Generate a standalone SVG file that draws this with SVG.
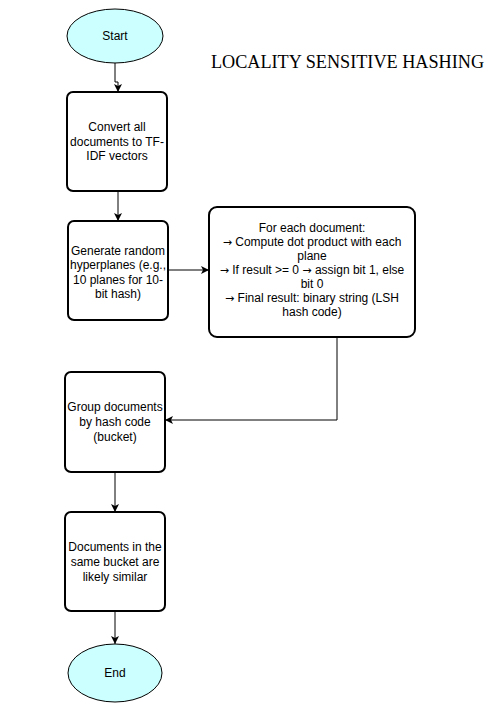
<svg xmlns="http://www.w3.org/2000/svg" width="498" height="723" viewBox="0 0 498 723">
<style>
.box{fill:#fff;stroke:#000;stroke-width:2}
.term{fill:#ccffff;stroke:#000;stroke-width:1}
.t{font-family:"Liberation Sans",Arial,sans-serif;font-size:12px;fill:#000;text-anchor:middle}
.a{font-family:"DejaVu Sans",sans-serif;font-size:11px}
.title{font-family:"Liberation Serif","Times New Roman",serif;font-size:18.2px;fill:#000;text-anchor:middle}
.c{fill:none;stroke:#000;stroke-width:1}
</style>
<defs>
<marker id="arr" markerUnits="userSpaceOnUse" markerWidth="10" markerHeight="10" refX="8" refY="4" orient="auto">
<path d="M0,0 L8,4 L0,8 L2,4 z" fill="#000"/>
</marker>
</defs>
<rect width="498" height="723" fill="#fff"/>
<text class="title" x="347.5" y="68">LOCALITY SENSITIVE HASHING</text>
<g id="connectors">
<path class="c" d="M115,63 L115,82 L118,82 L118,92" marker-end="url(#arr)"/>
<path class="c" d="M118,191 L118,221" marker-end="url(#arr)"/>
<path class="c" d="M168,270 L209,270" marker-end="url(#arr)"/>
<path class="c" d="M337,337 L337,420 L165,420" marker-end="url(#arr)"/>
<path class="c" d="M115,472 L115,512" marker-end="url(#arr)"/>
<path class="c" d="M115,611 L115,644" marker-end="url(#arr)"/>
</g>
<g id="start">
<ellipse class="term" cx="115" cy="36" rx="48" ry="27"/>
<text class="t" x="115" y="40">Start</text>
</g>
<g id="convert">
<rect class="box" x="67" y="92" width="100" height="99" rx="6"/>
<text class="t" x="117" y="131">Convert all</text>
<text class="t" x="117" y="145.5">documents to TF-</text>
<text class="t" x="117" y="160">IDF vectors</text>
</g>
<g id="generate">
<rect class="box" x="68" y="221" width="100" height="99" rx="6"/>
<text class="t" x="118" y="254.5">Generate random</text>
<text class="t" x="118" y="269">hyperplanes (e.g.,</text>
<text class="t" x="118" y="283.5">10 planes for 10-</text>
<text class="t" x="118" y="298">bit hash)</text>
</g>
<g id="compute">
<rect class="box" x="209" y="207" width="206" height="130" rx="8"/>
<text class="t" x="312" y="232">For each document:</text>
<text class="t" x="312" y="246"><tspan class="a">→</tspan> Compute dot product with each</text>
<text class="t" x="312" y="260">plane</text>
<text class="t" x="312" y="274"><tspan class="a">→</tspan> If result &gt;= 0 <tspan class="a">→</tspan> assign bit 1, else</text>
<text class="t" x="312" y="288">bit 0</text>
<text class="t" x="312" y="302"><tspan class="a">→</tspan> Final result: binary string (LSH</text>
<text class="t" x="312" y="316">hash code)</text>
</g>
<g id="group">
<rect class="box" x="65" y="372" width="100" height="100" rx="6"/>
<text class="t" x="115" y="411">Group documents</text>
<text class="t" x="115" y="426">by hash code</text>
<text class="t" x="115" y="441">(bucket)</text>
</g>
<g id="similar">
<rect class="box" x="65" y="512" width="100" height="99" rx="6"/>
<text class="t" x="115" y="551">Documents in the</text>
<text class="t" x="115" y="566">same bucket are</text>
<text class="t" x="115" y="581">likely similar</text>
</g>
<g id="end">
<ellipse class="term" cx="115" cy="673" rx="47" ry="29"/>
<text class="t" x="115" y="677">End</text>
</g>
</svg>
